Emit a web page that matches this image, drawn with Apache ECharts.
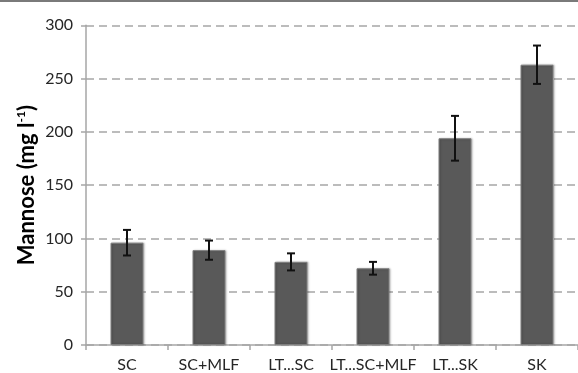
<!DOCTYPE html>
<html>
<head>
<meta charset="utf-8">
<script src="https://cdn.jsdelivr.net/npm/echarts@6/dist/echarts.min.js"></script>
<style>html,body{margin:0;padding:0;background:#fff}#c{width:578px;height:373px}</style>
</head>
<body>
<div id="c"></div>
<script>
var categories = ['SC', 'SC+MLF', 'LT...SC', 'LT...SC+MLF', 'LT...SK', 'SK'];
var means = [96, 89, 78, 72, 194, 263];
var errors = [12, 9, 8, 6, 21, 18];
var yTicks = [0, 50, 100, 150, 200, 250, 300];

var chart = echarts.init(document.getElementById('c'), null, {renderer: 'canvas'});
var font = 'Lato, "Liberation Sans", sans-serif';
var errData = means.map(function (m, i) { return [i, m - errors[i], m + errors[i]]; });

chart.setOption({
  animation: false,
  textStyle: {fontFamily: font},
  graphic: [{
    type: 'rect', shape: {x: 0, y: 0, width: 578, height: 2},
    style: {fill: '#7a7a7a'}, silent: true
  }],
  grid: {left: 86, right: -11, top: 25.3, bottom: 27.3, containLabel: false},
  xAxis: {
    type: 'category',
    data: categories,
    axisLine: {lineStyle: {color: '#a6a6a6', width: 1.5}},
    axisTick: {show: true, length: 5, alignWithLabel: false, lineStyle: {color: '#a6a6a6', width: 1.5}},
    axisLabel: {color: '#262626', fontSize: 16, margin: 12, fontFamily: font, interval: 0}
  },
  yAxis: {
    type: 'value',
    min: yTicks[0], max: yTicks[yTicks.length - 1], interval: 50,
    name: '{a|Mannose (mg l}{s|-1}{a|)}',
    nameLocation: 'middle',
    nameGap: 47,
    nameMoveOverlap: false,
    nameRotate: 90,
    nameTextStyle: {
      rich: {
        a: {fontSize: 22, fontWeight: 'bold', color: '#000', fontFamily: font, lineHeight: 24},
        s: {fontSize: 12, fontWeight: 'bold', color: '#000', fontFamily: font, verticalAlign: 'top', lineHeight: 24, padding: [0, 0, 8, 0]}
      }
    },
    axisLine: {show: true, lineStyle: {color: '#a6a6a6', width: 1.5}},
    axisTick: {show: true, length: 5, lineStyle: {color: '#a6a6a6', width: 1.5}},
    axisLabel: {color: '#262626', fontSize: 16, margin: 13, fontFamily: font},
    splitLine: {show: true, lineStyle: {color: '#a6a6a6', width: 1.5, type: [8, 5]}}
  },
  series: [{
    type: 'bar',
    data: means,
    barWidth: 33,
    itemStyle: {color: '#595959', borderColor: '#7f7f7f', borderWidth: 1,
      shadowBlur: 2, shadowColor: 'rgba(0,0,0,0.25)', shadowOffsetX: 1, shadowOffsetY: 0},
    z: 2
  }, {
    type: 'custom',
    data: errData,
    z: 3,
    renderItem: function (params, api) {
      var x = api.value(0);
      var lo = api.coord([x, api.value(1)]);
      var hi = api.coord([x, api.value(2)]);
      var hw = 4;
      var st = {stroke: '#111', lineWidth: 2};
      return {type: 'group', children: [
        {type: 'line', shape: {x1: lo[0], y1: lo[1], x2: hi[0], y2: hi[1]}, style: st},
        {type: 'line', shape: {x1: lo[0] - hw, y1: lo[1], x2: lo[0] + hw, y2: lo[1]}, style: st},
        {type: 'line', shape: {x1: hi[0] - hw, y1: hi[1], x2: hi[0] + hw, y2: hi[1]}, style: st}
      ]};
    }
  }]
});
</script>
</body>
</html>
